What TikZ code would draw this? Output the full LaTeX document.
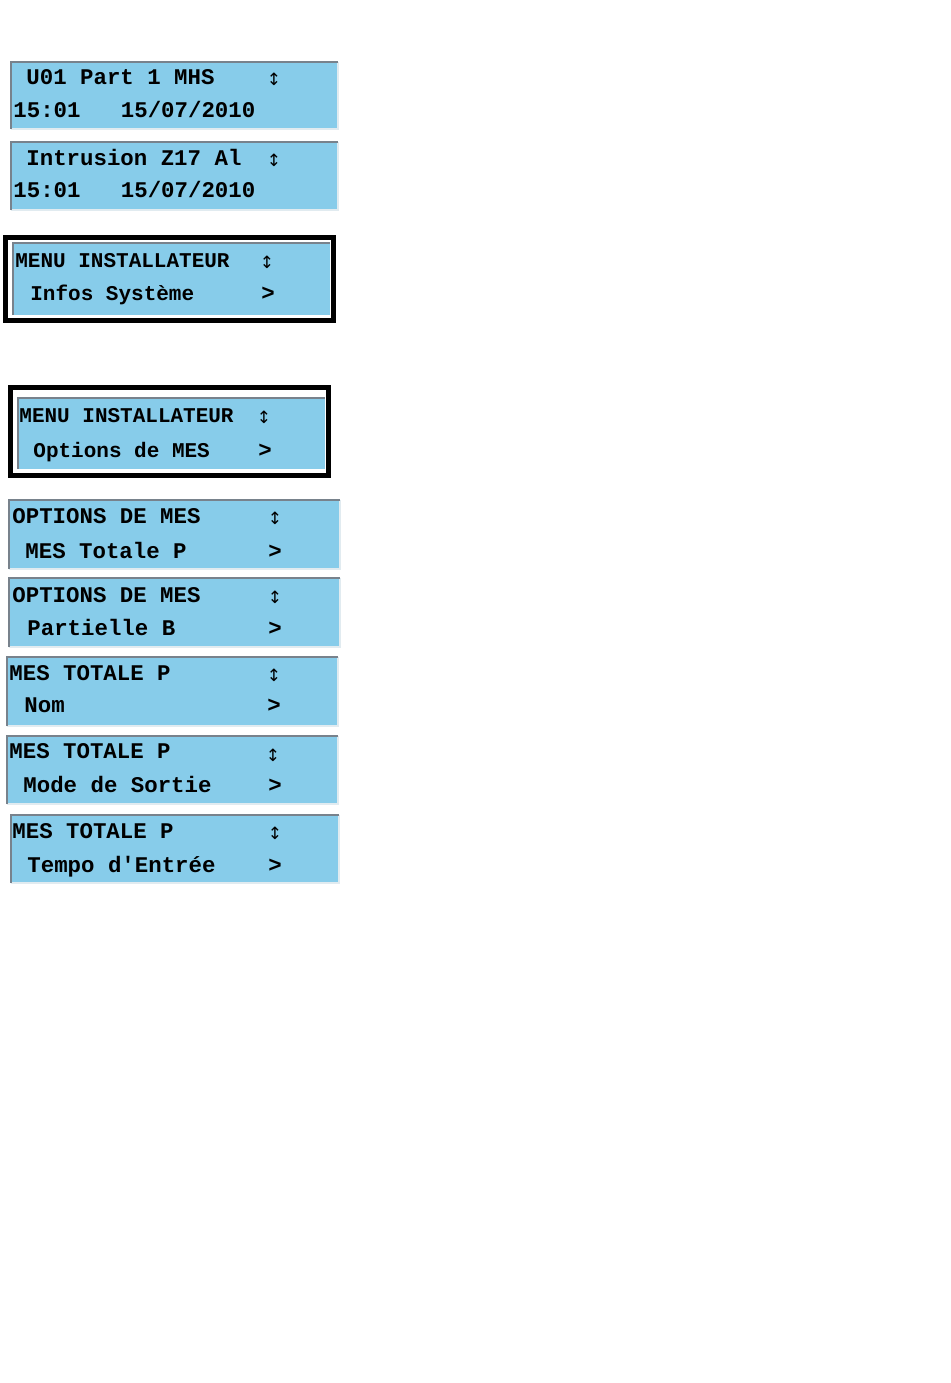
\documentclass[tikz,border=0pt]{standalone}
\usepackage{fontspec}
\usepackage{tikz}
\usetikzlibrary{positioning}
\newfontfamily\lcdfont{Liberation Mono}[BoldFont={Liberation Mono Bold}]
\newfontfamily\symfont{DejaVu Sans}
\definecolor{lcdblue}{RGB}{135,204,234}
\definecolor{lcdedge}{RGB}{120,130,140}
\definecolor{lcdlight}{RGB}{225,235,240}

\tikzset{
  lcdtxt/.style={inner sep=0pt, anchor=base west, font=\lcdfont\bfseries\fontsize{11.2}{13}\selectfont},
  menutxt/.style={lcdtxt, font=\lcdfont\bfseries\fontsize{10.5}{12}\selectfont},
  lcdarrow/.style={inner sep=0pt, anchor=center, font=\symfont\fontsize{8.5}{10}\selectfont},
  lcdmore/.style={inner sep=0pt, anchor=base, font=\lcdfont\bfseries\fontsize{11.2}{13}\selectfont},
  frame/.style={draw=black, line width=2.5pt},
}

\begin{document}
\begin{tikzpicture}[x=0.5pt, y=-0.5pt]
  \useasboundingbox[fill=white] (0,0) rectangle (950,1383);

  % status screen 1
  \fill[lcdblue] (11,62) rectangle (338,129);
  \draw[lcdlight, line width=1pt] (11,129) -- (338,129) -- (338,62);
  \draw[lcdedge, line width=1pt] (11,129) -- (11,62) -- (338,62);
  \node (s1a) [lcdtxt] at (26,84) {U01 Part 1 MHS};
  \node (s1b) [lcdtxt] at (13,117) {15:01\ \ \ 15/07/2010};
  \node (s1u) [lcdarrow] at (274,79) {↕};

  % status screen 2
  \fill[lcdblue] (11,142) rectangle (338,210);
  \draw[lcdlight, line width=1pt] (11,210) -- (338,210) -- (338,142);
  \draw[lcdedge, line width=1pt] (11,210) -- (11,142) -- (338,142);
  \node (s2a) [lcdtxt] at (26,165) {Intrusion Z17 Al};
  \node (s2b) [lcdtxt] at (13,197) {15:01\ \ \ 15/07/2010};
  \node (s2u) [lcdarrow] at (274,160) {↕};

  % installer menu, system info
  \draw[frame] (5.5,237.5) rectangle (333.5,320.5);
  \fill[lcdblue] (13,243) rectangle (330,315);
  \draw[lcdedge, line width=1pt] (13,315) -- (13,243) -- (330,243);
  \node (m1a) [menutxt] at (15,267) {MENU INSTALLATEUR};
  \node (m1b) [menutxt] at (30,300) {Infos Système};
  \node (m1u) [lcdarrow] at (267,262) {↕};
  \node (m1m) [lcdmore] at (268,300) {>};

  % installer menu, arming options
  \draw[frame] (10.5,387.5) rectangle (328.5,475.5);
  \fill[lcdblue] (18,398) rectangle (325,469);
  \draw[lcdedge, line width=1pt] (18,469) -- (18,398) -- (325,398);
  \node (m2a) [menutxt] at (19,422) {MENU INSTALLATEUR};
  \node (m2b) [menutxt] at (33,457) {Options de MES};
  \node (m2u) [lcdarrow] at (264,417) {↕};
  \node (m2m) [lcdmore] at (265,457) {>};

  % arming options
  \fill[lcdblue] (9,500) rectangle (340,569);
  \draw[lcdlight, line width=1pt] (9,569) -- (340,569) -- (340,500);
  \draw[lcdedge, line width=1pt] (9,569) -- (9,500) -- (340,500);
  \node (o1a) [lcdtxt] at (12,523) {OPTIONS DE MES};
  \node (o1b) [lcdtxt] at (25,558) {MES Totale P};
  \node (o1u) [lcdarrow] at (275,518) {↕};
  \node (o1m) [lcdmore] at (275,558) {>};

  \fill[lcdblue] (9,578) rectangle (340,647);
  \draw[lcdlight, line width=1pt] (9,647) -- (340,647) -- (340,578);
  \draw[lcdedge, line width=1pt] (9,647) -- (9,578) -- (340,578);
  \node (o2a) [lcdtxt] at (12,602) {OPTIONS DE MES};
  \node (o2b) [lcdtxt] at (27,635) {Partielle B};
  \node (o2u) [lcdarrow] at (275,597) {↕};
  \node (o2m) [lcdmore] at (275,635) {>};

  % full arming P
  \fill[lcdblue] (7,657) rectangle (338,726);
  \draw[lcdlight, line width=1pt] (7,726) -- (338,726) -- (338,657);
  \draw[lcdedge, line width=1pt] (7,726) -- (7,657) -- (338,657);
  \node (t1a) [lcdtxt] at (9,680) {MES TOTALE P};
  \node (t1b) [lcdtxt] at (24,712) {Nom};
  \node (t1u) [lcdarrow] at (274,675) {↕};
  \node (t1m) [lcdmore] at (274,712) {>};

  \fill[lcdblue] (7,736) rectangle (338,804);
  \draw[lcdlight, line width=1pt] (7,804) -- (338,804) -- (338,736);
  \draw[lcdedge, line width=1pt] (7,804) -- (7,736) -- (338,736);
  \node (t2a) [lcdtxt] at (9,758) {MES TOTALE P};
  \node (t2b) [lcdtxt] at (23,792) {Mode de Sortie};
  \node (t2u) [lcdarrow] at (273,755) {↕};
  \node (t2m) [lcdmore] at (275,792) {>};

  \fill[lcdblue] (11,815) rectangle (339,883);
  \draw[lcdlight, line width=1pt] (11,883) -- (339,883) -- (339,815);
  \draw[lcdedge, line width=1pt] (11,883) -- (11,815) -- (339,815);
  \node (t3a) [lcdtxt] at (12,838) {MES TOTALE P};
  \node (t3b) [lcdtxt] at (27,872) {Tempo d'Entrée};
  \node (t3u) [lcdarrow] at (275,833) {↕};
  \node (t3m) [lcdmore] at (275,872) {>};
\end{tikzpicture}
\end{document}
